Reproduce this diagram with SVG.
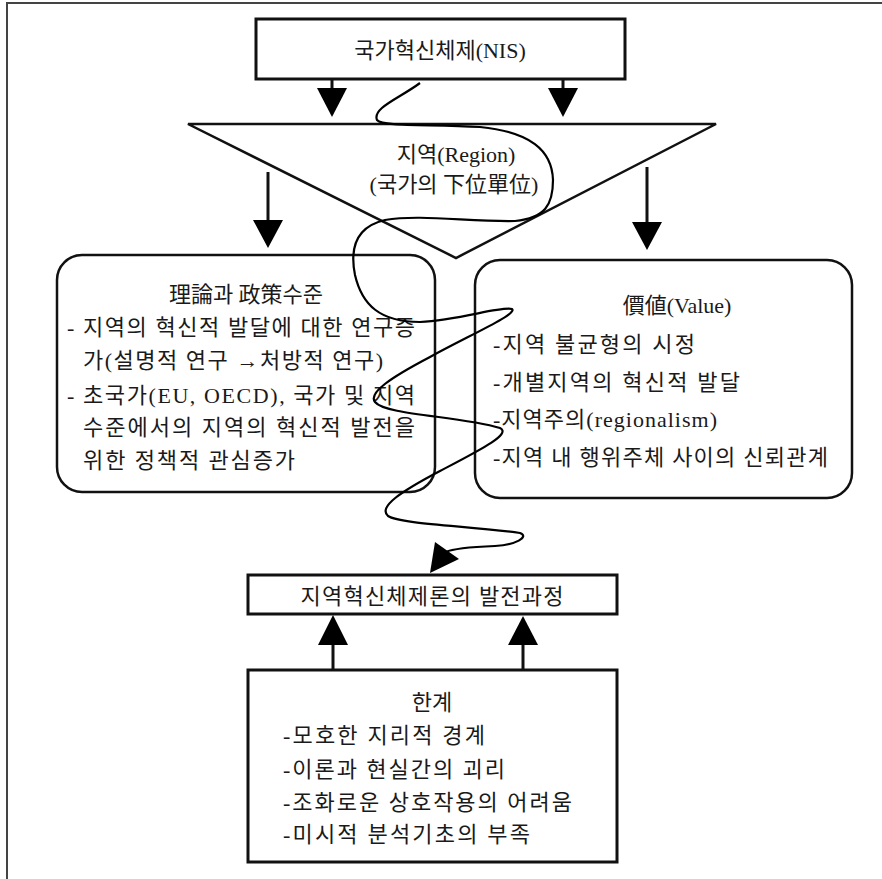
<svg xmlns="http://www.w3.org/2000/svg" width="882" height="879" viewBox="0 0 882 879">
<style>
  .t { font-family: "Liberation Serif", "Noto Sans CJK KR", serif; font-size: 22px; fill: #1a1a1a; }
  .c { text-anchor: middle; }
  .box { fill: #fff; stroke: #111; stroke-width: 3; }
  .rbox { fill: none; stroke: #111; stroke-width: 2.5; }
  .shaft { stroke: #111; stroke-width: 3; fill: none; }
  .head { fill: #000; }
  .curve { fill: none; stroke: #000; stroke-width: 2.2; }
</style>
<rect width="882" height="879" fill="#fff"/>
<g id="frame">
  <path d="M7,879 L7,3 L882,3" fill="none" stroke="#444" stroke-width="2"/>
</g>
<g id="nis">
  <rect class="box" x="256" y="19" width="369" height="60"/>
  <text class="t c" x="440" y="58">국가혁신체제(NIS)</text>
</g>
<g id="region">
  <polygon points="188,124 716,124 456,258" fill="#fff" stroke="#111" stroke-width="2.5"/>
  <text class="t c" x="456" y="162">지역(Region)</text>
  <text class="t c" x="454" y="192">(국가의 下位單位)</text>
</g>
<g id="theory">
  <rect class="rbox" x="57" y="255" width="378" height="237" rx="25" ry="25"/>
  <text class="t c" x="246" y="302">理論과 政策수준</text>
  <text class="t" x="67" y="335">-</text>
  <text class="t" x="83" y="335" textLength="332" lengthAdjust="spacing">지역의 혁신적 발달에 대한 연구증</text>
  <text class="t" x="83" y="368" textLength="300" lengthAdjust="spacing">가(설명적 연구 →처방적 연구)</text>
  <text class="t" x="67" y="403">-</text>
  <text class="t" x="83" y="403" textLength="332" lengthAdjust="spacing">초국가(EU, OECD), 국가 및 지역</text>
  <text class="t" x="83" y="435" textLength="332" lengthAdjust="spacing">수준에서의 지역의 혁신적 발전을</text>
  <text class="t" x="83" y="468" textLength="212" lengthAdjust="spacing">위한 정책적 관심증가</text>
</g>
<g id="value">
  <rect class="rbox" x="475" y="260" width="377" height="238" rx="25" ry="25"/>
  <text class="t c" x="677" y="313">價値(Value)</text>
  <text class="t" x="493" y="352" textLength="202" lengthAdjust="spacing">-지역 불균형의 시정</text>
  <text class="t" x="493" y="390" textLength="247" lengthAdjust="spacing">-개별지역의 혁신적 발달</text>
  <text class="t" x="493" y="427" textLength="224" lengthAdjust="spacing">-지역주의(regionalism)</text>
  <text class="t" x="493" y="465" textLength="335" lengthAdjust="spacing">-지역 내 행위주체 사이의 신뢰관계</text>
</g>
<g id="process">
  <rect class="box" x="248" y="575" width="369" height="39"/>
  <text class="t c" x="432" y="604" textLength="263" lengthAdjust="spacing">지역혁신체제론의 발전과정</text>
</g>
<g id="limits">
  <rect class="box" x="248" y="670" width="369" height="192"/>
  <text class="t c" x="432" y="710">한계</text>
  <text class="t" x="283" y="743" textLength="202" lengthAdjust="spacing">-모호한 지리적 경계</text>
  <text class="t" x="283" y="777" textLength="222" lengthAdjust="spacing">-이론과 현실간의 괴리</text>
  <text class="t" x="283" y="810" textLength="289" lengthAdjust="spacing">-조화로운 상호작용의 어려움</text>
  <text class="t" x="283" y="842" textLength="247" lengthAdjust="spacing">-미시적 분석기초의 부족</text>
</g>
<g id="connectors">
  <line class="shaft" x1="332" y1="79" x2="332" y2="90"/>
  <polygon class="head" points="317,88 347,88 332,117"/>
  <line class="shaft" x1="563" y1="79" x2="563" y2="90"/>
  <polygon class="head" points="548,88 578,88 563,117"/>
  <line class="shaft" x1="268" y1="172" x2="268" y2="222"/>
  <polygon class="head" points="253,220 283,220 268,248"/>
  <line class="shaft" x1="647" y1="167" x2="647" y2="224"/>
  <polygon class="head" points="632,222 662,222 647,250"/>
  <line class="shaft" x1="333" y1="670" x2="333" y2="643"/>
  <polygon class="head" points="318,645 348,645 333,615"/>
  <line class="shaft" x1="523" y1="670" x2="523" y2="643"/>
  <polygon class="head" points="508,645 538,645 523,616"/>
  <path class="curve" d="M420,83 C400,98 372,108 377,120 C382,127 430,124 480,127 C530,132 552,150 553,180 C553,205 545,218 515,221 C470,222 420,214 385,220 C355,227 350,250 355,275 C362,305 380,322 420,322 C460,320 500,306 512,309 C518,314 470,335 430,357 C390,378 368,393 375,402 C385,415 460,416 500,428 C512,434 480,450 440,471 C400,492 378,507 388,516 C400,524 470,526 520,533 C530,537 515,545 495,546 C470,547 452,549 446,552"/>
  <polygon class="head" points="430,573 435,542 459,559"/>
</g>
</svg>
